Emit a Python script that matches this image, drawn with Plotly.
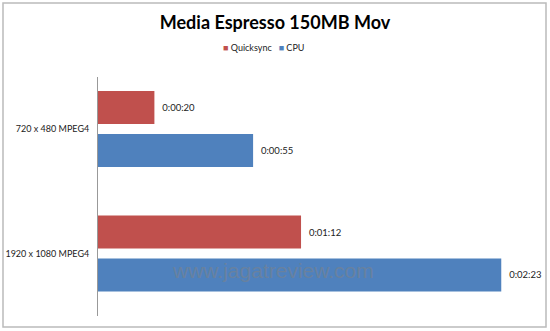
import plotly.graph_objects as go

categories = ["720 x 480 MPEG4", "1920 x 1080 MPEG4"]
series_names = ["Quicksync", "CPU"]
quicksync_sec = [20, 72]
cpu_sec = [55, 143]
colors = ["#C0504D", "#4F81BD"]

def fmt(s):
    return f"{s // 3600}:{(s % 3600) // 60:02d}:{s % 60:02d}"

W, H = 550, 331
L, R, T, B = 98, 540, 77, 316

fig = go.Figure()
for name, vals, col in zip(series_names, [quicksync_sec, cpu_sec], colors):
    fig.add_trace(go.Bar(
        y=categories, x=vals, name=name, orientation="h",
        marker=dict(color=col, line=dict(width=0)),
        text=["  " + fmt(v) for v in vals], textposition="outside",
        textfont=dict(family="Lato", size=9.5, color="#222222"),
        cliponaxis=False, showlegend=False,
    ))

def px_x(p):
    return (p - L) / (R - L)

def px_y(p):
    return (B - p) / (B - T)

legend_html = "&nbsp;&nbsp;&nbsp;".join(
    f'<span style="color:{c};font-size:9px">■</span> {n}' for n, c in zip(series_names, colors)
)

fig.update_layout(
    width=W, height=H,
    margin=dict(l=L, r=W - R, t=T, b=H - B, autoexpand=False),
    paper_bgcolor="white", plot_bgcolor="white",
    barmode="group", bargap=0.31, bargroupgap=0.23,
    title=dict(text="<b>Media Espresso 150MB Mov</b>", xref="container", x=0.5, xanchor="center",
               yref="container", y=1 - 23 / H, yanchor="middle",
               font=dict(family="Lato", size=18, color="#000000")),
    showlegend=False,
    xaxis=dict(range=[0, (R - L) / 2.82], visible=False, showgrid=False, zeroline=False),
    yaxis=dict(type="category", range=[1.502, -0.418], showline=True, linecolor="#999999",
               linewidth=1, ticks="", showgrid=False, zeroline=False, automargin=False,
               tickfont=dict(family="Lato", size=9, color="#222222"), ticklabelstandoff=6),
    shapes=[dict(type="rect", xref="paper", yref="paper",
                 x0=px_x(3), x1=px_x(546), y0=px_y(3), y1=px_y(327),
                 line=dict(color="#BBBBBB", width=1.5), fillcolor="rgba(0,0,0,0)", layer="below")],
    annotations=[
        dict(text=legend_html, xref="paper", yref="paper", x=px_x(263), y=px_y(48),
             xanchor="center", yanchor="middle", showarrow=False,
             font=dict(family="Lato", size=9, color="#222222")),
        dict(text="www.jagatreview.com", xref="paper", yref="paper",
             x=px_x(273), y=px_y(284), showarrow=False,
             font=dict(family="Liberation Sans", size=21, color="rgba(130,130,130,0.5)")),
    ],
)

fig.write_html("out.html")
